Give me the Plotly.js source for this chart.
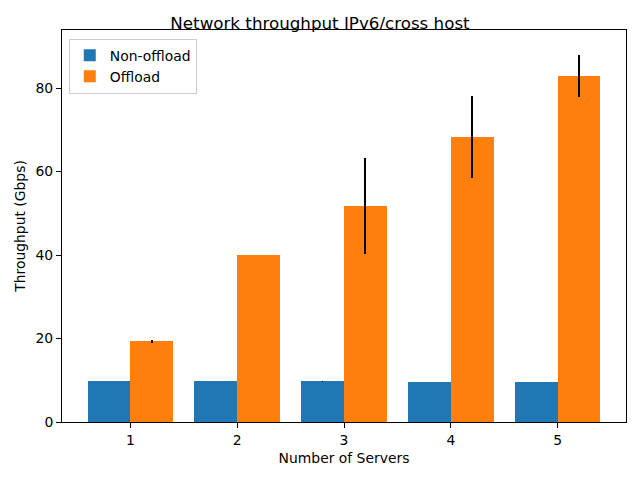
<!DOCTYPE html>
<html>
<head>
<meta charset="utf-8">
<script src="https://cdn.plot.ly/plotly-3.0.1.min.js"></script>
<style>body{margin:0;padding:0;background:#fff;}#chart{width:640px;height:480px;}</style>
</head>
<body>
<div id="chart"></div>
<script>
const servers = [1, 2, 3, 4, 5];
const nonOffload = [9.8, 9.8, 9.75, 9.6, 9.6];
const nonOffloadErr = [0.05, 0.05, 0.1, 0.05, 0.05];
const offload = [19.3, 40.0, 51.7, 68.3, 82.8];
const offloadErr = [0.4, 0.1, 11.45, 9.8, 5.0];

const font = {family: 'DejaVu Sans, sans-serif', size: 13.9, color: '#000'};

const traces = [
  {
    type: 'bar', name: 'Non-offload', x: servers, y: nonOffload,
    width: 0.4, offset: -0.4,
    marker: {color: '#1f77b4', line: {width: 0}},
    error_y: {type: 'data', array: nonOffloadErr, visible: true, color: '#000', thickness: 1.5, width: 0}
  },
  {
    type: 'bar', name: 'Offload', x: servers, y: offload,
    width: 0.4, offset: 0,
    marker: {color: '#ff7f0e', line: {width: 0}},
    error_y: {type: 'data', array: offloadErr, visible: true, color: '#000', thickness: 2, width: 0}
  }
];

const layout = {
  width: 640, height: 480,
  margin: {l: 62, r: 14, t: 30, b: 58},
  paper_bgcolor: '#fff', plot_bgcolor: '#fff',
  font: font,
  showlegend: true,
  title: {text: 'Network throughput IPv6/cross host', font: {family: 'DejaVu Sans, sans-serif', size: 16.7, color: '#000'}, x: 0.5, xanchor: 'center', y: 0.951, yanchor: 'middle'},
  xaxis: {
    range: [0.36, 5.64], tickvals: servers, ticktext: servers.map(String),
    ticks: 'outside', ticklen: 5, tickwidth: 1, tickcolor: '#000',
    showline: true, linecolor: '#000', linewidth: 1, mirror: true,
    showgrid: false, zeroline: false,
    title: {text: 'Number of Servers', font: font, standoff: 6},
    tickfont: font
  },
  yaxis: {
    range: [0, 93.9], tickvals: [0, 20, 40, 60, 80],
    ticks: 'outside', ticklen: 5, tickwidth: 1, tickcolor: '#000',
    showline: true, linecolor: '#000', linewidth: 1, mirror: true,
    showgrid: false, zeroline: false,
    title: {text: 'Throughput (Gbps)', font: font, standoff: 6},
    tickfont: font
  },
  legend: {
    x: 0.012, y: 0.978, xanchor: 'left', yanchor: 'top',
    bgcolor: 'rgba(255,255,255,0.8)', bordercolor: '#cccccc', borderwidth: 1,
    font: font, itemwidth: 30, tracegroupgap: 0
  },
  bargap: 0
};

Plotly.newPlot('chart', traces, layout, {staticPlot: true, displayModeBar: false});
</script>
</body>
</html>
